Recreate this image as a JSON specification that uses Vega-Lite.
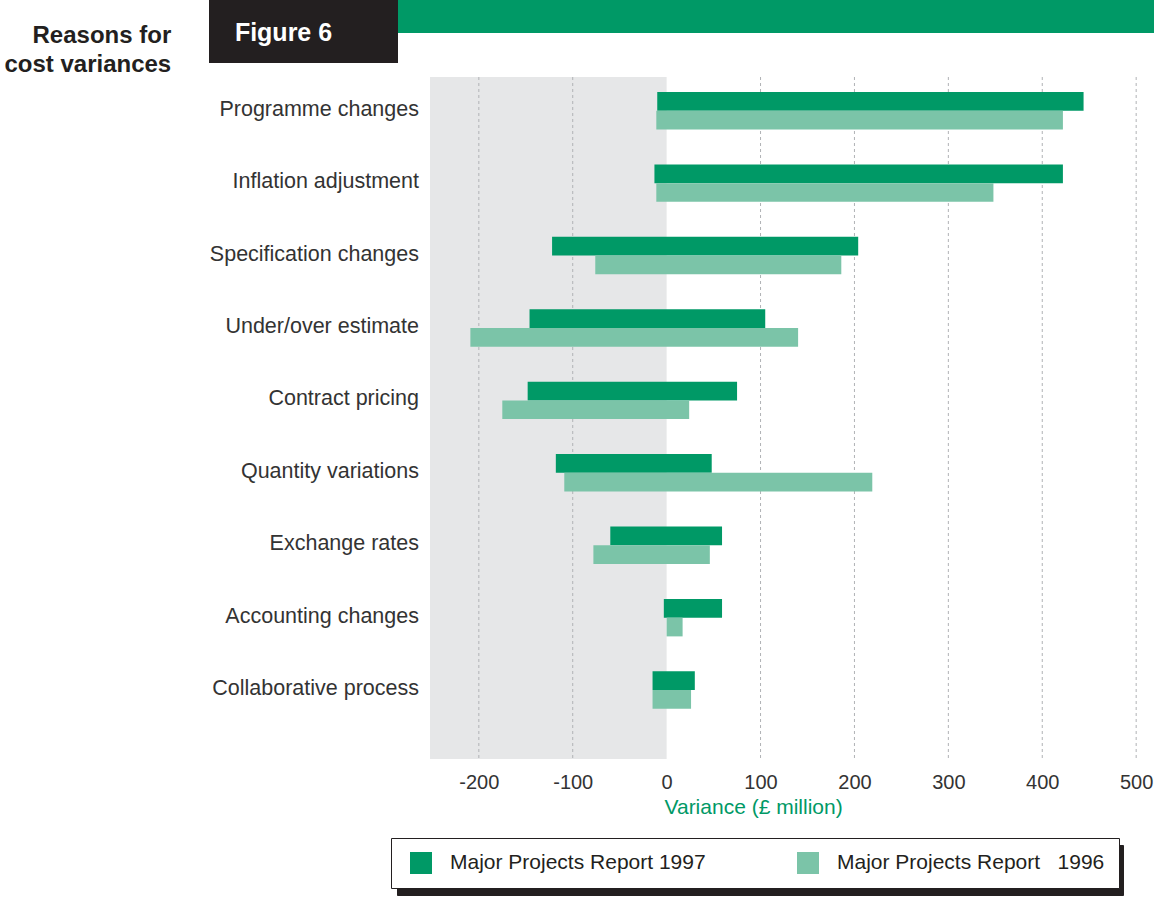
{
  "$schema": "https://vega.github.io/schema/vega-lite/v6.json",
  "padding": {"left": 4, "top": 0, "right": 0, "bottom": 0},
  "background": "white",
  "config": {"font": "Liberation Sans", "view": {"stroke": null}},
  "title": {
    "text": ["Reasons for", "cost variances"],
    "orient": "left",
    "anchor": "end",
    "angle": 0,
    "align": "right",
    "baseline": "top",
    "offset": -129,
    "frame": "bounds",
    "fontSize": 24,
    "fontWeight": "bold",
    "font": "Liberation Sans",
    "color": "#231f20",
    "lineHeight": 29,
    "dy": 24
  },
  "datasets": {
    "bars": [
      {"category": "Programme changes", "report": "Major Projects Report 1997", "neg": -10, "pos": 444},
      {"category": "Programme changes", "report": "Major Projects Report\u00a0\u00a0 1996", "neg": -11, "pos": 422},
      {"category": "Inflation adjustment", "report": "Major Projects Report 1997", "neg": -13, "pos": 422},
      {"category": "Inflation adjustment", "report": "Major Projects Report\u00a0\u00a0 1996", "neg": -11, "pos": 348},
      {"category": "Specification changes", "report": "Major Projects Report 1997", "neg": -122, "pos": 204},
      {"category": "Specification changes", "report": "Major Projects Report\u00a0\u00a0 1996", "neg": -76, "pos": 186},
      {"category": "Under/over estimate", "report": "Major Projects Report 1997", "neg": -146, "pos": 105},
      {"category": "Under/over estimate", "report": "Major Projects Report\u00a0\u00a0 1996", "neg": -209, "pos": 140},
      {"category": "Contract pricing", "report": "Major Projects Report 1997", "neg": -148, "pos": 75},
      {"category": "Contract pricing", "report": "Major Projects Report\u00a0\u00a0 1996", "neg": -175, "pos": 24},
      {"category": "Quantity variations", "report": "Major Projects Report 1997", "neg": -118, "pos": 48},
      {"category": "Quantity variations", "report": "Major Projects Report\u00a0\u00a0 1996", "neg": -109, "pos": 219},
      {"category": "Exchange rates", "report": "Major Projects Report 1997", "neg": -60, "pos": 59},
      {"category": "Exchange rates", "report": "Major Projects Report\u00a0\u00a0 1996", "neg": -78, "pos": 46},
      {"category": "Accounting changes", "report": "Major Projects Report 1997", "neg": -3, "pos": 59},
      {"category": "Accounting changes", "report": "Major Projects Report\u00a0\u00a0 1996", "neg": 0, "pos": 17},
      {"category": "Collaborative process", "report": "Major Projects Report 1997", "neg": -15, "pos": 30},
      {"category": "Collaborative process", "report": "Major Projects Report\u00a0\u00a0 1996", "neg": -15, "pos": 26}
    ],
    "cats": [
      {"category": "Programme changes"},
      {"category": "Inflation adjustment"},
      {"category": "Specification changes"},
      {"category": "Under/over estimate"},
      {"category": "Contract pricing"},
      {"category": "Quantity variations"},
      {"category": "Exchange rates"},
      {"category": "Accounting changes"},
      {"category": "Collaborative process"}
    ],
    "grid": [{"v": -200}, {"v": -100}, {"v": 100}, {"v": 200}, {"v": 300}, {"v": 400}, {"v": 500}],
    "shade": [{"lo": -252, "hi": 0}],
    "fig": [{"t": "Figure 6"}],
    "blank": [{"t": ""}]
  },
  "vconcat": [
    {
      "hconcat": [
        {
          "width": 189,
          "height": 63,
          "view": {"fill": "#231f20", "stroke": null},
          "data": {"name": "fig"},
          "mark": {"type": "text", "color": "white", "fontSize": 25, "fontWeight": "bold", "font": "Liberation Sans", "align": "center", "baseline": "middle", "dx": -20, "dy": 1},
          "encoding": {"text": {"field": "t"}}
        },
        {
          "width": 756,
          "height": 33,
          "view": {"fill": "#009966", "stroke": null},
          "data": {"name": "blank"},
          "mark": {"type": "text"},
          "encoding": {"text": {"field": "t"}}
        }
      ],
      "spacing": 0
    },
    {
      "hconcat": [
        {
          "width": 221,
          "height": 682,
          "view": {"stroke": null},
          "data": {"name": "cats"},
          "mark": {"type": "text", "align": "right", "baseline": "middle", "fontSize": 21.5, "color": "#333333", "font": "Liberation Sans", "dx": 99.5, "dy": -1},
          "encoding": {
            "y": {"field": "category", "type": "nominal", "sort": null,
              "scale": {"type": "band", "paddingInner": 0.483, "paddingOuter": 0.45, "align": 0.23}, "axis": null},
            "text": {"field": "category"}
          }
        },
        {
          "width": 724,
          "height": 682,
          "view": {"stroke": null},
          "layer": [
            {
              "data": {"name": "shade"},
              "mark": {"type": "rect", "color": "#e6e7e8"},
              "encoding": {
                "x": {"field": "lo", "type": "quantitative", "scale": {"domain": [-252, 519], "nice": false, "zero": false},
                  "axis": {"values": [-200, -100, 0, 100, 200, 300, 400, 500], "labelExpr": "'' + datum.value", "grid": false, "ticks": false, "domain": false, "labelFontSize": 20, "labelColor": "#333333", "labelPadding": 13, "title": "Variance (£ million)", "titleColor": "#009966", "titleFontSize": 21, "titleFontWeight": "normal", "titleAlign": "left", "titleAnchor": "start", "titleX": 234, "titlePadding": 4}},
                "x2": {"field": "hi"}
              }
            },
            {
              "data": {"name": "grid"},
              "mark": {"type": "rule", "color": "#b0b2b5", "strokeWidth": 1, "strokeDash": [3, 3]},
              "encoding": {"x": {"field": "v", "type": "quantitative"}}
            },
            {
              "data": {"name": "bars"},
              "mark": {"type": "bar", "cornerRadius": 0},
              "encoding": {
                "y": {"field": "category", "type": "nominal", "sort": null,
                  "scale": {"paddingInner": 0.483, "paddingOuter": 0.45, "align": 0.23}, "axis": null},
                "yOffset": {"field": "report", "type": "nominal", "scale": {"domain": ["Major Projects Report 1997", "Major Projects Report\u00a0\u00a0 1996"], "paddingInner": 0, "paddingOuter": 0}},
                "x": {"field": "neg", "type": "quantitative"},
                "x2": {"field": "pos"},
                "color": {"field": "report", "type": "nominal",
                  "scale": {"domain": ["Major Projects Report 1997", "Major Projects Report\u00a0\u00a0 1996"], "range": ["#009966", "#7bc4a8"]},
                  "legend": {"title": null, "orient": "none", "legendX": 182, "legendY": 838, "direction": "horizontal", "symbolType": "square", "symbolSize": 484, "symbolStrokeWidth": 0, "symbolOffset": 5, "labelFontSize": 21, "labelColor": "#231f20", "labelOffset": 18, "labelLimit": 400, "columnPadding": 86, "padding": 14, "fillColor": "white", "strokeColor": "#231f20", "zindex": 2}},
                "opacity": {"field": "report", "type": "nominal",
                  "scale": {"domain": ["Major Projects Report\u00a0\u00a0 1996", "Major Projects Report 1997"], "range": [1, 1]},
                  "legend": {"title": null, "orient": "none", "legendX": 188, "legendY": 845, "direction": "horizontal", "symbolType": "square", "symbolSize": 484, "symbolStrokeWidth": 0, "symbolOffset": 5, "symbolFillColor": "#231f20", "labelExpr": "''", "labelOffset": 0, "columnPadding": 644, "padding": 14, "fillColor": "#231f20", "strokeColor": "#231f20", "zindex": 1}}
              }
            },
            {
              "mark": {"type": "rule", "color": "#231f20", "strokeWidth": 2},
              "encoding": {"x": {"datum": 0}}
            }
          ]
        }
      ],
      "spacing": 0
    }
  ],
  "spacing": 13
}
